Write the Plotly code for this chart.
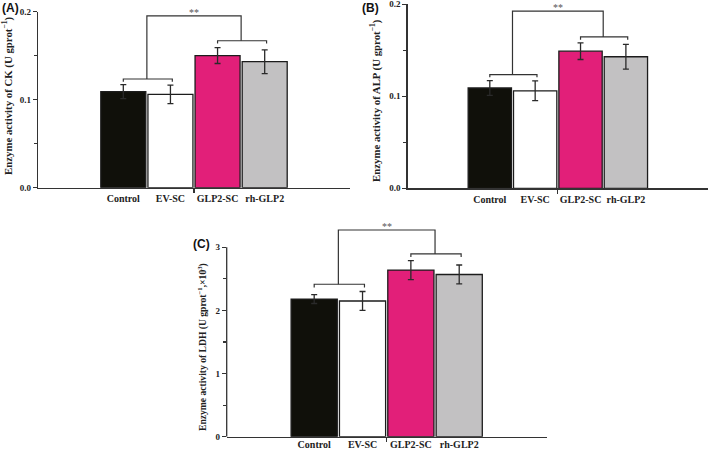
import plotly.graph_objects as go

# ---------------- data ----------------
categories = ["Control", "EV-SC", "GLP2-SC", "rh-GLP2"]
x_pos = [0, 1, 2, 3]

ck_mean = [0.109, 0.106, 0.150, 0.143]
ck_err = [0.008, 0.0105, 0.009, 0.0135]

alp_mean = [0.109, 0.106, 0.149, 0.143]
alp_err = [0.008, 0.0108, 0.009, 0.0135]

ldh_mean = [2.18, 2.15, 2.64, 2.57]
ldh_err = [0.07, 0.15, 0.15, 0.15]

# significance bracket levels: [group1 bracket, group2 bracket, top bracket]
ck_sig = [0.1234, 0.1668, 0.195]
alp_sig = [0.1236, 0.1645, 0.1925]
ldh_sig = [2.415, 2.895, 3.275]
sig_label = "**"

# ---------------- style ----------------
bar_colors = ["#10100a", "#ffffff", "#e21f79", "#c2c1c2"]
line_col = "#1c1c1c"
axis_col = "#333333"
serif = "Liberation Serif"
sans = "Liberation Sans"
W, H = 709, 450


def fx(p):
    return p / W


def fy(p):
    return 1 - p / H


panels = [
    dict(k="", mean=ck_mean, err=ck_err, sig=ck_sig, xd=(38, 350), yd=(187.7, 11.5),
         yr=[0, 0.2], dt=0.1, mdt=0.05, fmt=".1f", drop=0.003, stand=1,
         title="Enzyme activity of CK (U gprot<sup>−1</sup>)", tpos=(7, 96), tsize=10.8,
         lab="(A)", lpos=(10, 8), manual_axis=False),
    dict(k="2", mean=alp_mean, err=alp_err, sig=alp_sig, xd=(407.7, 708), yd=(188.3, 4.3),
         yr=[0, 0.2], dt=0.1, mdt=0.05, fmt=".1f", drop=0.003, stand=1,
         title="Enzyme activity of ALP (U gprot<sup>−1</sup>)", tpos=(375, 100), tsize=10.8,
         lab="(B)", lpos=(370, 8), manual_axis=False),
    dict(k="3", mean=ldh_mean, err=ldh_err, sig=ldh_sig, xd=(226.7, 546.7), yd=(436.7, 228.4),
         yr=[0, 3.3], dt=1, mdt=0.5, fmt="d", drop=0.05, stand=-2,
         title="Enzyme activity of LDH (U gprot<sup>−1</sup>,×10<sup>3</sup>)", tpos=(202, 347),
         tsize=9.6, lab="(C)", lpos=(201, 244), manual_axis=True, ytop=3),
]

fig = go.Figure()
shapes = []
annotations = []
xr = [-1.81, 4.81]

for p in panels:
    xa = "x" + p["k"]
    ya = "y" + p["k"]
    fig.add_trace(go.Bar(
        x=x_pos, y=p["mean"], width=0.955,
        marker=dict(color=bar_colors, line=dict(color=line_col, width=1.3)),
        error_y=dict(type="data", array=p["err"], visible=True,
                     color="#2a2a2a", thickness=1.3, width=3),
        xaxis=xa, yaxis=ya, showlegend=False, hoverinfo="skip",
    ))
    lay_x = "xaxis" + p["k"]
    lay_y = "yaxis" + p["k"]
    fig.update_layout(**{
        lay_x: dict(domain=[fx(p["xd"][0]), fx(p["xd"][1])], range=xr, anchor=ya,
                    tickvals=x_pos, ticktext=categories, ticks="",
                    showline=True, linecolor=axis_col, linewidth=1.3,
                    showgrid=False, zeroline=False, fixedrange=True, automargin=False,
                    tickfont=dict(family=serif, size=10, color="#222", weight="bold"),
                    ticklabelstandoff=p["stand"], ticklabeloverflow="allow",
                    minor=dict(tickvals=[1.5], ticks="outside", ticklen=4,
                               tickcolor=axis_col, tickwidth=1.2)),
        lay_y: dict(domain=[fy(p["yd"][0]), fy(p["yd"][1])], range=p["yr"], anchor=xa,
                    dtick=p["dt"], tick0=0, tickformat=p["fmt"],
                    ticks="outside", ticklen=4, tickcolor=axis_col, tickwidth=1.2,
                    showline=not p["manual_axis"], linecolor=axis_col, linewidth=1.3,
                    showgrid=False, zeroline=False, fixedrange=True, automargin=False,
                    ticklabeloverflow="allow",
                    tickfont=dict(family=serif, size=9, color="#222", weight="bold"),
                    minor=dict(dtick=p["mdt"], tick0=0, ticks="outside", ticklen=3,
                               tickcolor=axis_col, tickwidth=1.2)),
    })
    if p["manual_axis"]:
        shapes.append(dict(type="line", xref=xa + " domain", yref=ya,
                           x0=0, x1=0, y0=0, y1=p["ytop"],
                           line=dict(color=axis_col, width=1.3)))
    s1, s2, s3 = p["sig"]
    d = p["drop"]
    lc = dict(color="#333333", width=1.2)
    paths = [
        # group 1 bracket
        [(0, s1 - d), (0, s1), (1.04, s1), (1.04, s1 - d)],
        # group 2 bracket
        [(2, s2 - d), (2, s2), (3.04, s2), (3.04, s2 - d)],
        # top bracket
        [(0.5, s1), (0.5, s3), (2.5, s3), (2.5, s2)],
    ]
    for path in paths:
        dstr = "M " + " L ".join(f"{a},{b}" for a, b in path)
        shapes.append(dict(type="path", xref=xa, yref=ya, path=dstr, line=lc))
    annotations.append(dict(x=1.5, y=s3, xref=xa, yref=ya, text=sig_label,
                            showarrow=False, yanchor="bottom", yshift=-4,
                            font=dict(family=serif, size=10, color="#555")))
    annotations.append(dict(x=fx(p["tpos"][0]), y=fy(p["tpos"][1]), xref="paper", yref="paper",
                            text=p["title"], textangle=-90, showarrow=False,
                            xanchor="center", yanchor="middle",
                            font=dict(family=serif, size=p["tsize"], color="#222", weight="bold")))
    annotations.append(dict(x=fx(p["lpos"][0]), y=fy(p["lpos"][1]), xref="paper", yref="paper",
                            text=p["lab"], showarrow=False, xanchor="center", yanchor="middle",
                            font=dict(family=sans, size=12, color="#111", weight="bold")))

fig.update_layout(
    width=W, height=H,
    margin=dict(l=0, r=0, t=0, b=0, pad=0, autoexpand=False),
    paper_bgcolor="white", plot_bgcolor="white",
    shapes=shapes, annotations=annotations,
    bargap=0, showlegend=False,
)

fig.write_html("out.html",
               config={"displayModeBar": False, "staticPlot": True},
               post_script="document.body.style.margin='0px';document.body.style.overflow='hidden';")
